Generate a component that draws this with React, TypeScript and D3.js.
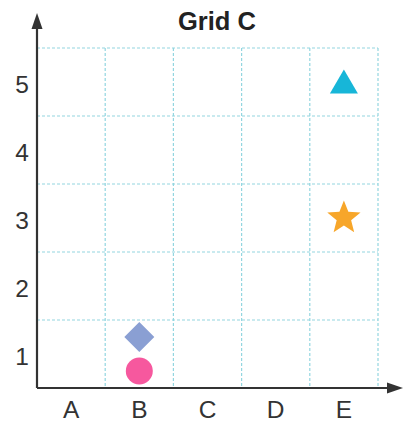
import React from 'react';
import * as d3 from 'd3';

const categories = ['A', 'B', 'C', 'D', 'E'];
const yTicks = [1, 2, 3, 4, 5];
const pointShape = ['triangle', 'star', 'diamond', 'circle'];
const pointCat = ['E', 'E', 'B', 'B'];
const pointVal = [5, 3, 1.25, 0.75];
const pointColor = ['#17b6d8', '#f7a62a', '#8a9fd3', '#f6589e'];
const title = 'Grid C';

const W = 410;
const H = 421;
const left = 37;
const right = 378;
const top = 48;
const bottom = 388;

export default function App() {
  const x = d3.scaleBand<string>().domain(categories).range([left, right]).padding(0);
  const y = d3.scaleLinear().domain([0.5, 5.5]).range([bottom, top]);
  const bw = x.bandwidth();
  const vLines = categories.map((c) => (x(c) as number) + bw);
  const hLines = yTicks.map((t) => y(t + 0.5));
  const font = '"Liberation Sans", Arial, sans-serif';
  const axisColor = '#333';
  const gridColor = '#93d6e0';

  const starPath = () => {
    const R = 17.5;
    const r = 7.6;
    const pts: [number, number][] = [];
    for (let i = 0; i < 10; i++) {
      const a = (Math.PI / 5) * i;
      const rad = i % 2 === 0 ? R : r;
      pts.push([a, rad]);
    }
    return d3.lineRadial().curve(d3.curveLinearClosed)(pts) as string;
  };

  const renderPoint = (i: number) => {
    const cx = (x(pointCat[i]) as number) + bw / 2;
    const cy = y(pointVal[i]);
    const fill = pointColor[i];
    const s = pointShape[i];
    if (s === 'circle') return <circle key={i} cx={cx} cy={cy} r={13.5} fill={fill} />;
    if (s === 'triangle') {
      const side = 28;
      const h = (side * Math.sqrt(3)) / 2;
      const p = d3.symbol(d3.symbolTriangle, (side * side * Math.sqrt(3)) / 4)() as string;
      return <path key={i} d={p} transform={`translate(${cx},${cy + h / 6 - 0.5})`} fill={fill} />;
    }
    if (s === 'diamond') {
      const p = d3.symbol(d3.symbolSquare, 450)() as string;
      return <path key={i} d={p} transform={`translate(${cx},${cy}) rotate(45)`} fill={fill} />;
    }
    return <path key={i} d={starPath()} transform={`translate(${cx},${cy})`} fill={fill} />;
  };

  return (
    <div style={{ position: 'absolute', left: 0, top: 0 }}>
      <svg width={W} height={H} style={{ display: 'block' }}>
        <rect width={W} height={H} fill="#fff" />
        <text x={217} y={30} textAnchor="middle" fontFamily={font} fontWeight="bold" fontSize={25.5} fill="#222">
          {title}
        </text>
        <g stroke={gridColor} strokeWidth={1.2} strokeDasharray="3 2" fill="none">
          {hLines.map((yy, i) => (
            <line key={'h' + i} x1={left} x2={right} y1={yy} y2={yy} />
          ))}
          {vLines.map((xx, i) => (
            <line key={'v' + i} x1={xx} x2={xx} y1={top} y2={bottom} />
          ))}
        </g>
        {pointShape.map((_, i) => renderPoint(i))}
        <line x1={left} x2={left} y1={bottom} y2={24} stroke={axisColor} strokeWidth={2.2} />
        <line x1={left} x2={392} y1={bottom} y2={bottom} stroke={axisColor} strokeWidth={2.2} />
        <path d={`M${left},13 L${left - 5.5},29 L${left + 5.5},29 Z`} fill={axisColor} />
        <path d={`M403,${bottom} L387,${bottom - 5.5} L387,${bottom + 5.5} Z`} fill={axisColor} />
        {yTicks.map((t) => (
          <text key={t} x={22} y={y(t) + 2.5} textAnchor="middle" dominantBaseline="central" fontFamily={font} fontSize={24.5} fill="#333">
            {t}
          </text>
        ))}
        {categories.map((c) => (
          <text key={c} x={(x(c) as number) + bw / 2} y={409} textAnchor="middle" dominantBaseline="central" fontFamily={font} fontSize={24.5} fill="#333">
            {c}
          </text>
        ))}
      </svg>
    </div>
  );
}
